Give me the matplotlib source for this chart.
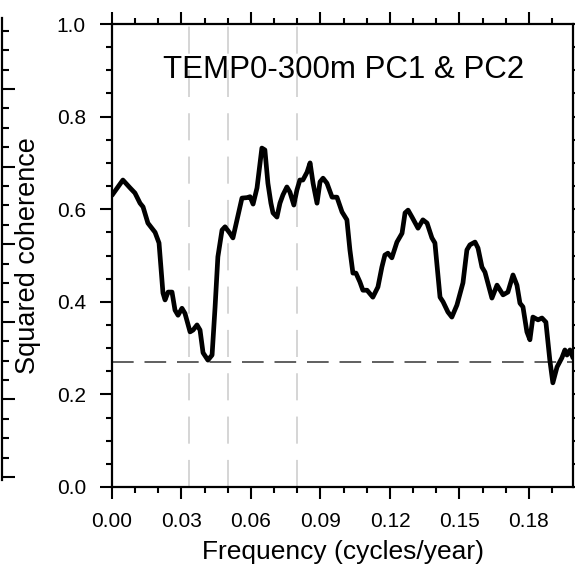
import matplotlib
matplotlib.use("Agg")
import matplotlib.pyplot as plt
from matplotlib.ticker import MultipleLocator, FormatStrFormatter

plt.rcParams['font.family'] = ['Liberation Sans', 'DejaVu Sans']

# Data
freq = [0.0000, 0.0047, 0.0078, 0.0099, 0.0121, 0.0134, 0.0155, 0.0186, 0.0203, 0.0220,
        0.0229, 0.0242, 0.0259, 0.0272, 0.0285, 0.0302, 0.0315, 0.0337, 0.0350, 0.0367,
        0.0380, 0.0393, 0.0414, 0.0432, 0.0445, 0.0457, 0.0475, 0.0488, 0.0509, 0.0522,
        0.0561, 0.0583, 0.0596, 0.0609, 0.0626, 0.0647, 0.0660, 0.0673, 0.0686, 0.0695,
        0.0712, 0.0725, 0.0738, 0.0755, 0.0768, 0.0785, 0.0798, 0.0811, 0.0824, 0.0842,
        0.0855, 0.0868, 0.0885, 0.0898, 0.0911, 0.0928, 0.0950, 0.0971, 0.0993, 0.1014,
        0.1027, 0.1040, 0.1053, 0.1070, 0.1083, 0.1101, 0.1126, 0.1148, 0.1165, 0.1178,
        0.1191, 0.1208, 0.1230, 0.1252, 0.1265, 0.1278, 0.1295, 0.1321, 0.1342, 0.1360,
        0.1381, 0.1394, 0.1416, 0.1429, 0.1450, 0.1467, 0.1489, 0.1515, 0.1532, 0.1545,
        0.1567, 0.1580, 0.1597, 0.1610, 0.1640, 0.1662, 0.1688, 0.1709, 0.1731, 0.1748,
        0.1761, 0.1774, 0.1791, 0.1804, 0.1817, 0.1839, 0.1856, 0.1873, 0.1890, 0.1903,
        0.1921, 0.1942, 0.1955, 0.1964, 0.1977, 0.1990]
coherence = [0.630, 0.663, 0.646, 0.635, 0.613, 0.605, 0.570, 0.550, 0.527, 0.419,
             0.404, 0.421, 0.421, 0.382, 0.371, 0.386, 0.375, 0.335, 0.339, 0.350,
             0.339, 0.290, 0.274, 0.285, 0.389, 0.497, 0.555, 0.562, 0.548, 0.538,
             0.624, 0.625, 0.627, 0.611, 0.646, 0.732, 0.728, 0.656, 0.613, 0.592,
             0.583, 0.613, 0.631, 0.648, 0.637, 0.609, 0.641, 0.663, 0.663, 0.680,
             0.700, 0.656, 0.613, 0.659, 0.667, 0.656, 0.626, 0.626, 0.594, 0.577,
             0.512, 0.462, 0.462, 0.443, 0.425, 0.425, 0.410, 0.432, 0.475, 0.501,
             0.505, 0.495, 0.529, 0.548, 0.592, 0.598, 0.583, 0.559, 0.577, 0.570,
             0.538, 0.527, 0.410, 0.400, 0.378, 0.367, 0.393, 0.441, 0.512, 0.523,
             0.529, 0.516, 0.475, 0.464, 0.408, 0.436, 0.415, 0.421, 0.458, 0.436,
             0.397, 0.389, 0.335, 0.318, 0.367, 0.361, 0.365, 0.356, 0.274, 0.225,
             0.259, 0.279, 0.296, 0.285, 0.296, 0.279]
significance = 0.27
period_freqs = [1 / 30, 1 / 20, 1 / 12.5]
x_ticks = [0.00, 0.03, 0.06, 0.09, 0.12, 0.15, 0.18]
y_ticks = [0.0, 0.2, 0.4, 0.6, 0.8, 1.0]
title_text = "TEMP0-300m PC1 & PC2"

W, H = 575, 571
fig = plt.figure(figsize=(W / 100, H / 100), dpi=100)

# Main axes
L, R, T, B = 112, 573, 24, 487
ax = fig.add_axes([L / W, (H - B) / H, (R - L) / W, (B - T) / H])

for f in period_freqs:
    ax.axvline(f, color='#d2d2d2', lw=1.3, dashes=(15, 9), zorder=1)
ax.axhline(significance, color='#444444', lw=1.2, dashes=(13, 6.5), zorder=2)
ax.plot(freq, coherence, color='black', lw=3.4, solid_joinstyle='round',
        solid_capstyle='round', zorder=3)

ax.set_xlim(0, 0.199)
ax.set_ylim(0, 1.0)
ax.set_xticks(x_ticks)
ax.set_yticks(y_ticks)
ax.xaxis.set_major_formatter(FormatStrFormatter('%.2f'))
ax.yaxis.set_major_formatter(FormatStrFormatter('%.1f'))
ax.xaxis.set_minor_locator(MultipleLocator(0.01))
ax.yaxis.set_minor_locator(MultipleLocator(0.05))
ax.tick_params(which='both', direction='out', top=True, right=True, width=1.5)
ax.tick_params(which='major', length=8.8)
ax.tick_params(which='minor', length=4.2)
ax.tick_params(axis='x', which='major', labelsize=15, pad=9)
ax.tick_params(axis='y', which='major', labelsize=15, pad=10)
for s in ax.spines.values():
    s.set_linewidth(1.6)

ax.set_xlabel("Frequency (cycles/year)", fontsize=19, labelpad=7)
ax.set_ylabel("Squared coherence", fontsize=19.5, labelpad=11)
ax.text(0.503, 0.883, title_text, transform=ax.transAxes, ha='center', va='baseline',
        fontsize=22.5)

# Partial neighbouring panel at the left edge (only its right axis is visible)
lt, lb = 18, 480
ax2 = fig.add_axes([-0.5, (H - lb) / H, 0.5 + 2 / W, (lb - lt) / H])
ax2.set_ylim(-0.008, 1.183)
ax2.set_xlim(0, 1)
for side in ['left', 'top', 'bottom']:
    ax2.spines[side].set_visible(False)
ax2.spines['right'].set_linewidth(1.6)
ax2.set_xticks([])
ax2.yaxis.tick_right()
ax2.set_yticks(y_ticks)
ax2.yaxis.set_minor_locator(MultipleLocator(0.05))
ax2.tick_params(which='both', direction='out', labelright=False, width=1.5)
ax2.tick_params(which='major', length=9.5)
ax2.tick_params(which='minor', length=5)
ax2.patch.set_visible(False)

fig.savefig("out.png", dpi=100)
